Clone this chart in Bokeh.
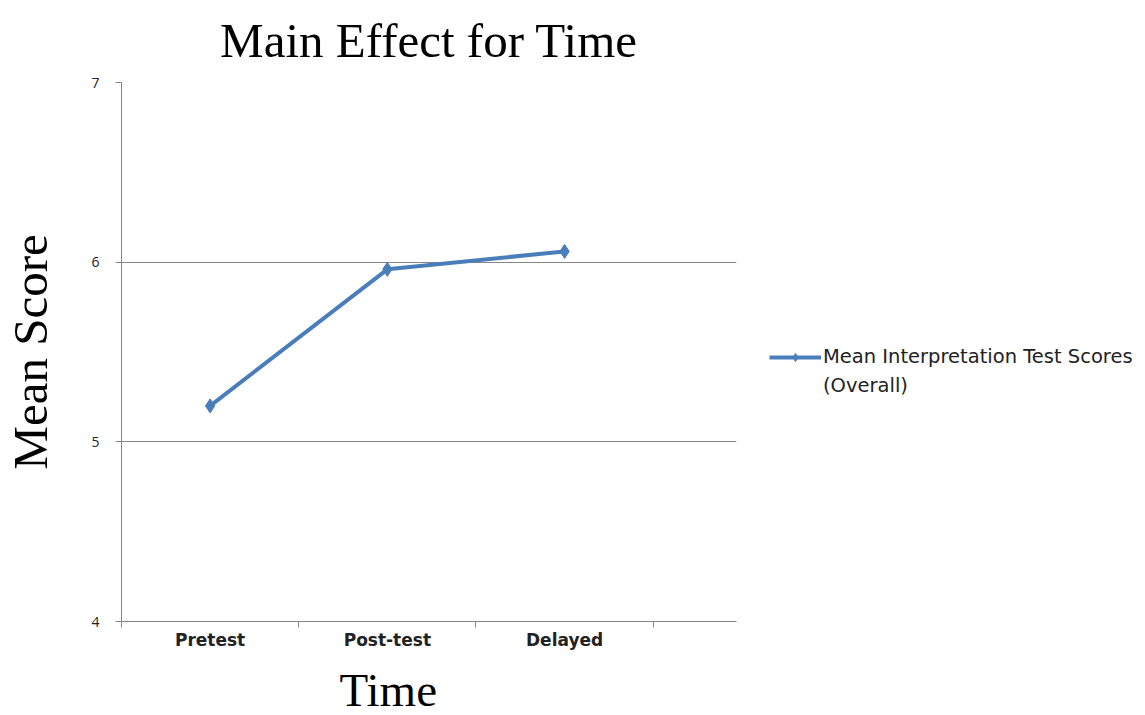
from bokeh.plotting import figure
from bokeh.models import FixedTicker, Range1d, Legend, LegendItem, Title
from bokeh.embed import file_html
from bokeh.resources import INLINE

# Data
categories = ["Pretest", "Post-test", "Delayed"]
scores = [5.20, 5.96, 6.06]
y_ticks = [4, 5, 6, 7]
series_name = ["Mean Interpretation Test Scores", "(Overall)"]

xs = [i + 0.5 for i in range(len(categories))]

p = figure(frame_width=615, frame_height=539, output_backend="svg", toolbar_location=None,
           x_range=Range1d(0, 3.47), y_range=Range1d(4, 7),
           min_border_left=120, min_border_right=410,
           min_border_top=82, min_border_bottom=40)
p.outline_line_color = None
p.background_fill_color = "white"

p.title.text = "Main Effect for Time"
p.title.text_font = "Liberation Serif"
p.title.text_font_size = "49px"
p.title.text_font_style = "normal"
p.title.align = "center"
p.title.vertical_align = "top"
p.title.text_color = "black"
p.title.standoff = 25

grey = "#868686"

# Grid
p.xgrid.grid_line_color = None
p.ygrid.grid_line_color = grey
p.ygrid.grid_line_width = 1

# Y axis
p.yaxis.ticker = FixedTicker(ticks=y_ticks)
p.yaxis.axis_line_color = grey
p.yaxis.major_tick_line_color = grey
p.yaxis.major_tick_out = 6
p.yaxis.major_tick_in = 0
p.yaxis.minor_tick_line_color = None
p.yaxis.major_label_text_font = "Open Sans"
p.yaxis.major_label_text_font_size = "14px"
p.yaxis.major_label_text_color = "#222222"
p.yaxis.major_label_standoff = 16
p.yaxis.axis_label = "Mean Score"
p.yaxis.axis_label_text_font = "Liberation Serif"
p.yaxis.axis_label_text_font_size = "49px"
p.yaxis.axis_label_text_font_style = "normal"
p.yaxis.axis_label_text_color = "black"
p.yaxis.axis_label_standoff = 30

# X axis: labels centred in bands, tick marks on band edges
p.xaxis.ticker = FixedTicker(ticks=xs, minor_ticks=[0, 1, 2, 3])
p.xaxis.major_label_overrides = {x: c for x, c in zip(xs, categories)}
p.xaxis.axis_line_color = grey
p.xaxis.major_tick_line_color = None
p.xaxis.minor_tick_line_color = grey
p.xaxis.minor_tick_out = 6
p.xaxis.minor_tick_in = 0
p.xaxis.major_label_text_font = "DejaVu Sans"
p.xaxis.major_label_text_font_size = "17px"
p.xaxis.major_label_text_font_style = "bold"
p.xaxis.major_label_text_color = "#222222"
p.xaxis.major_label_standoff = 2

# X axis title below the tick labels, shifted left of centre
x_title = Title(text="Time", align="left", offset=218, standoff=18,
                text_font="Liberation Serif", text_font_size="47px",
                text_font_style="normal", text_color="black")
p.add_layout(x_title, "below")

color = "#4A7EBB"
line = p.line(xs, scores, line_color=color, line_width=4)
pts = p.scatter(xs, scores, marker="diamond", size=14, fill_color=color, line_color=color)
# invisible renderer so the second legend row carries no glyph
blank = p.line(xs, scores, line_alpha=0)

legend = Legend(items=[LegendItem(label=series_name[0], renderers=[line, pts]),
                       LegendItem(label=series_name[1], renderers=[blank])],
                location=(33, 224), glyph_width=52, glyph_height=20,
                label_height=20, spacing=6,
                label_text_font="DejaVu Sans", label_text_font_size="19.5px",
                label_text_color="#222222",
                border_line_color=None, background_fill_alpha=0,
                label_standoff=2, padding=0, margin=0)
p.add_layout(legend, "right")

open("out.html", "w").write(file_html(p, INLINE))
